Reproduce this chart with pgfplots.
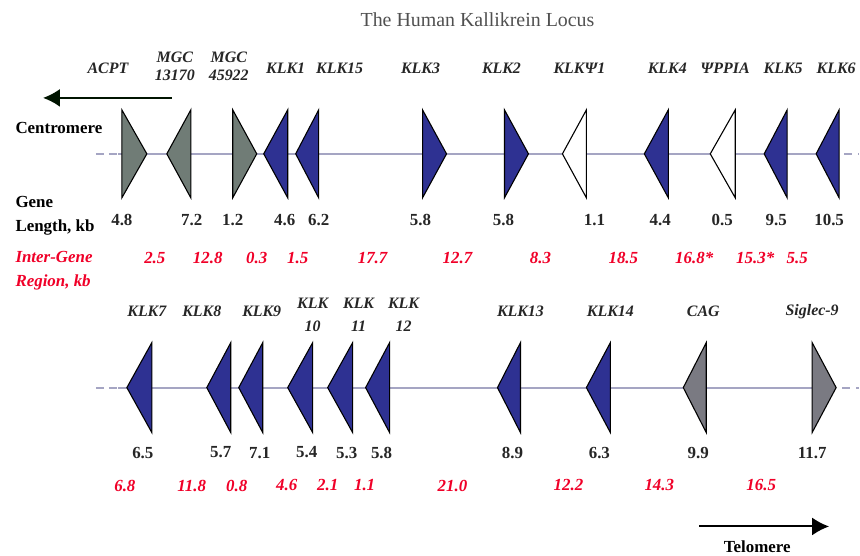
\documentclass[border=0pt]{standalone}
\usepackage{pgfplots}
\pgfplotsset{compat=1.18}
\usepackage{fontspec}
\setmainfont{Liberation Serif}
\usetikzlibrary{arrows.meta}
\definecolor{kblue}{RGB}{46,49,146}
\definecolor{kgray}{RGB}{112,124,118}
\definecolor{kgrayb}{RGB}{122,122,130}
\definecolor{kline}{RGB}{165,165,195}
\definecolor{kred}{RGB}{240,0,40}
\definecolor{ktitle}{RGB}{80,80,80}
% triangle: fill, edge x, apex x, top y, center y, bottom y
\newcommand{\tri}[6]{\addplot[draw=black, line width=1.1pt, fill=#1, line join=miter] coordinates {(#2,#4) (#3,#5) (#2,#6)} --cycle;}
\newcommand{\gn}[3]{\node[font=\fontsize{16}{18}\selectfont\bfseries\itshape, text=black!85, align=center] at (axis cs:#1,#2) {#3};}
\newcommand{\gnn}[3]{\node[font=\fontsize{16}{23}\selectfont\bfseries\itshape, text=black!85, align=center] at (axis cs:#1,#2) {#3};}
\newcommand{\gl}[3]{\node[font=\fontsize{17}{18}\selectfont\bfseries, text=black!85] at (axis cs:#1,#2) {#3};}
\newcommand{\ig}[3]{\node[font=\fontsize{17}{18}\selectfont\bfseries\itshape, text=kred] at (axis cs:#1,#2) {#3};}
\begin{document}
\begin{tikzpicture}
\begin{axis}[
  scale only axis, width=860bp, height=556bp,
  xmin=0, xmax=860, ymin=0, ymax=556, y dir=reverse,
  axis lines=none, clip=false, ticks=none]
\addplot[draw=none] coordinates {(0,0) (860,556)};
% title
\node[font=\fontsize{20}{21}\selectfont, text=ktitle] at (axis cs:478,20) {The Human Kallikrein Locus};
% centromere arrow
\addplot[draw=black!80!green!40!black, line width=2pt, -{Latex[length=17pt,width=18pt]}] coordinates {(172,98) (43,98)};
\node[font=\fontsize{17}{18}\selectfont\bfseries, anchor=west] at (axis cs:12,128) {Centromere};
% top row backbone
\addplot[draw=kline, line width=1.8pt, dash pattern=on 8pt off 5pt] coordinates {(96,154) (120,154)};
\addplot[draw=kline, line width=1.8pt] coordinates {(118,154) (840,154)};
\addplot[draw=kline, line width=1.8pt, dash pattern=on 8pt off 6pt] coordinates {(845,154) (860,154)};
% top row genes
\tri{kgray}{122}{147}{110}{154}{198}
\tri{kgray}{191}{167}{110}{154}{198}
\tri{kgray}{233}{257}{110}{154}{198}
\tri{kblue}{288}{264}{110}{154}{198}
\tri{kblue}{319}{296}{110}{154}{198}
\tri{kblue}{423}{447}{110}{154}{198}
\tri{kblue}{505}{529}{110}{154}{198}
\tri{white}{587}{563}{110}{154}{198}
\tri{kblue}{669}{645}{110}{154}{198}
\tri{white}{736}{711}{110}{154}{198}
\tri{kblue}{788}{765}{110}{154}{198}
\tri{kblue}{840}{817}{110}{154}{198}
% top names
\gn{108}{68}{ACPT}
\gn{175}{66}{MGC\\13170}
\gn{229}{66}{MGC\\45922}
\gn{286}{68}{KLK1}
\gn{340}{68}{KLK15}
\gn{421}{68}{KLK3}
\gn{502}{68}{KLK2}
\gn{580}{68}{KLKΨ1}
\gn{668}{68}{KLK4}
\gn{726}{68}{ΨPPIA}
\gn{784}{68}{KLK5}
\gn{837}{68}{KLK6}
% gene length labels
\node[font=\fontsize{17}{24}\selectfont\bfseries, anchor=west, align=left] at (axis cs:12,216) {Gene\\Length, kb};
\gl{122}{220}{4.8}
\gl{192}{220}{7.2}
\gl{233}{220}{1.2}
\gl{285}{220}{4.6}
\gl{319}{220}{6.2}
\gl{421}{220}{5.8}
\gl{504}{220}{5.8}
\gl{595}{220}{1.1}
\gl{661}{220}{4.4}
\gl{723}{220}{0.5}
\gl{777}{220}{9.5}
\gl{830}{220}{10.5}
% inter-gene
\node[font=\fontsize{17}{24}\selectfont\bfseries\itshape, text=kred, anchor=west, align=left] at (axis cs:12,271) {Inter-Gene\\Region, kb};
\ig{155}{258}{2.5}
\ig{208}{258}{12.8}
\ig{257}{258}{0.3}
\ig{298}{258}{1.5}
\ig{373}{258}{17.7}
\ig{458}{258}{12.7}
\ig{541}{258}{8.3}
\ig{624}{258}{18.5}
\ig{695}{258}{16.8*}
\ig{756}{258}{15.3*}
\ig{798}{258}{5.5}
% bottom backbone
\addplot[draw=kline, line width=1.8pt, dash pattern=on 8pt off 5pt] coordinates {(96,388) (120,388)};
\addplot[draw=kline, line width=1.8pt] coordinates {(118,388) (837,388)};
\addplot[draw=kline, line width=1.8pt, dash pattern=on 8pt off 6pt] coordinates {(843,388) (860,388)};
% bottom genes
\tri{kblue}{152}{127}{343}{388}{433}
\tri{kblue}{231}{207}{343}{388}{433}
\tri{kblue}{263}{239}{343}{388}{433}
\tri{kblue}{313}{288}{343}{388}{433}
\tri{kblue}{353}{328}{343}{388}{433}
\tri{kblue}{390}{366}{343}{388}{433}
\tri{kblue}{521}{498}{343}{388}{433}
\tri{kblue}{611}{587}{343}{388}{433}
\tri{kgrayb}{707}{684}{343}{388}{433}
\tri{kgrayb}{813}{837}{343}{388}{433}
% bottom names
\gn{147}{312}{KLK7}
\gn{202}{312}{KLK8}
\gn{262}{312}{KLK9}
\gnn{313}{315}{KLK\\10}
\gnn{359}{315}{KLK\\11}
\gnn{404}{315}{KLK\\12}
\gn{521}{312}{KLK13}
\gn{611}{312}{KLK14}
\gn{704}{312}{CAG}
\gn{813}{312}{Siglec-9}
% bottom lengths
\gl{143}{453}{6.5}
\gl{221}{453}{5.7}
\gl{260}{453}{7.1}
\gl{307}{453}{5.4}
\gl{347}{453}{5.3}
\gl{382}{453}{5.8}
\gl{513}{453}{8.9}
\gl{600}{453}{6.3}
\gl{699}{453}{9.9}
\gl{813}{453}{11.7}
% bottom inter-gene
\ig{125}{486}{6.8}
\ig{192}{486}{11.8}
\ig{237}{486}{0.8}
\ig{287}{486}{4.6}
\ig{328}{486}{2.1}
\ig{365}{486}{1.1}
\ig{453}{486}{21.0}
\ig{569}{486}{12.2}
\ig{660}{486}{14.3}
\ig{762}{486}{16.5}
% telomere arrow
\addplot[draw=black, line width=2pt, -{Latex[length=17pt,width=18pt]}] coordinates {(700,527) (830,527)};
\node[font=\fontsize{17}{18}\selectfont\bfseries] at (axis cs:758,547) {Telomere};
\end{axis}
\end{tikzpicture}
\end{document}
